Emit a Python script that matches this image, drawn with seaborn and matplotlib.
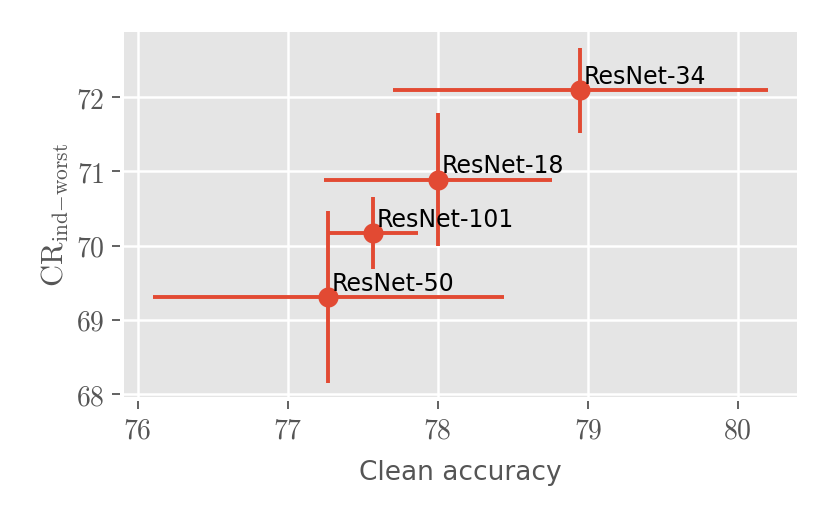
import matplotlib
matplotlib.use('Agg')
import matplotlib.pyplot as plt
import matplotlib.ticker as ticker
import pandas as pd
import seaborn as sns

# values
models = ['ResNet-34', 'ResNet-18', 'ResNet-101', 'ResNet-50']
clean_acc = [78.95, 78.00, 77.57, 77.27]
cr_worst = [72.09, 70.89, 70.17, 69.31]
acc_err = [1.25, 0.76, 0.30, 1.17]
cr_err = [0.57, 0.89, 0.48, 1.16]

RED = '#E24A33'

plt.style.use('ggplot')
plt.rcParams['mathtext.fontset'] = 'cm'
plt.rcParams['font.family'] = ['DejaVu Sans']

df = pd.DataFrame({'model': models, 'acc': clean_acc, 'cr': cr_worst,
                   'acc_err': acc_err, 'cr_err': cr_err})

fig = plt.figure(figsize=(8.3, 5.19), dpi=100)
ax = fig.add_axes([0.149, 0.235, 0.811, 0.703])

ax.errorbar(df.acc, df.cr, xerr=df.acc_err, yerr=df.cr_err, fmt='none',
            ecolor=RED, elinewidth=2.8, capsize=0, zorder=2)
sns.scatterplot(data=df, x='acc', y='cr', color=RED, s=210, linewidth=0,
                ax=ax, zorder=3)

for _, row in df.iterrows():
    ax.annotate(row.model, (row.acc, row.cr), xytext=(2.5, 4.5),
                textcoords='offset points', ha='left', va='baseline',
                fontsize=17, color='black', zorder=4)

ax.set_xlim(75.907, 80.393)
ax.set_ylim(67.96, 72.875)
ax.set_xticks([76, 77, 78, 79, 80])
ax.set_yticks([68, 69, 70, 71, 72])
fmt = ticker.FuncFormatter(lambda v, p: '$%d$' % round(v))
ax.xaxis.set_major_formatter(fmt)
ax.yaxis.set_major_formatter(fmt)

ax.grid(True, color='white', lw=1.8)
ax.set_axisbelow(True)
for s in ax.spines.values():
    s.set_visible(False)
ax.spines['left'].set_position(('outward', 3))
ax.spines['bottom'].set_position(('outward', 3))

ax.tick_params(axis='both', direction='out', length=6, width=1.3,
               colors='#555555', labelsize=20, pad=5)

ax.set_xlabel('Clean accuracy', fontsize=19, color='#555555', labelpad=11)
ax.set_ylabel(r'$\mathrm{CR}_{\mathrm{ind{-}worst}}$', fontsize=22,
              color='#555555', labelpad=3)

fig.savefig('out.png', dpi=100)
